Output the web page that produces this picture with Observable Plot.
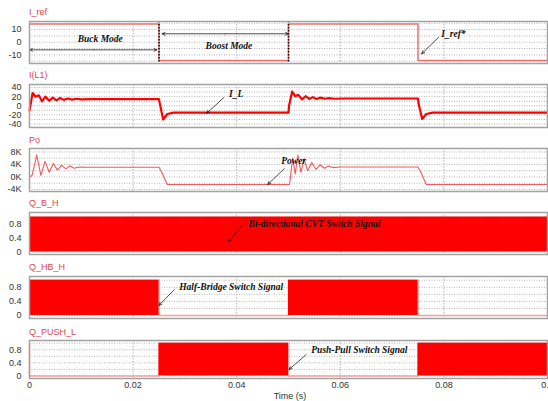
<!DOCTYPE html>
<html><head><meta charset="utf-8">
<script src="https://cdn.jsdelivr.net/npm/d3@7"></script>
<script src="https://cdn.jsdelivr.net/npm/@observablehq/plot@0.6"></script>
<style>
html,body{margin:0;padding:0;background:#fff;overflow:hidden}
#root{position:relative;width:548px;height:401px;overflow:hidden;background:#fff}
.ttl{position:absolute;left:29px;font:9px Arial,"Liberation Sans",sans-serif;line-height:10px;color:#e0474c;white-space:nowrap}
.p{position:absolute;left:0}
.xl{position:absolute;font:9px Arial,"Liberation Sans",sans-serif;line-height:10px;color:#333;white-space:nowrap;transform:translateX(-50%)}
</style></head><body><div id="root"></div>
<script>
// ---- data ----
const titles = ["I_ref", "I(L1)", "Po", "Q_B_H", "Q_HB_H", "Q_PUSH_L"];
const timeTicks = [0, 0.02, 0.04, 0.06, 0.08, 0.1];

const tIref = [0, 0.025, 0.025, 0.05, 0.05, 0.075, 0.075, 0.1];
const Iref  = [14.4, 14.4, -14.4, -14.4, 14.4, 14.4, -14.4, -14.4];

const tIL = [0, 0.0006, 0.0012, 0.0018, 0.0024, 0.0031, 0.0038, 0.0045, 0.0052, 0.0059, 0.0066, 0.0074, 0.0082, 0.009, 0.0100, 0.012,
             0.025, 0.0251, 0.0258, 0.0266, 0.0278, 0.05,
             0.0501, 0.0507, 0.0513, 0.0519, 0.0526, 0.0533, 0.054, 0.0547, 0.0554, 0.0562, 0.057, 0.0578, 0.0588, 0.061,
             0.075, 0.0751, 0.0758, 0.0766, 0.0778, 0.1];
const IL  = [-10, 28, 20, 23, 10, 20, 11, 18, 12, 17, 13, 16, 13.5, 15.5, 14, 14.5,
             14.5, 8, -30, -18, -15, -15,
             0, 31, 21, 24, 14, 21, 15, 19, 15, 18, 15.5, 17, 15.5, 16,
             16, 5, -29, -18, -15, -15];

const tPo = [0, 0.0005, 0.0014, 0.0022, 0.003, 0.0038, 0.0046, 0.0054, 0.0062, 0.007, 0.0078, 0.0086, 0.0095, 0.011,
             0.025, 0.0255, 0.0266, 0.05,
             0.0502, 0.0508, 0.0513, 0.0518, 0.0524, 0.053, 0.0537, 0.0545, 0.0553, 0.0561, 0.0569, 0.0577, 0.0585, 0.06,
             0.075, 0.0755, 0.0766, 0.1];
const Po  = [0, 500, 7000, 500, 5000, 1500, 4300, 2200, 3800, 2600, 3500, 2800, 3200, 3100,
             3100, 1600, -2400, -2400,
             -2400, 6000, 1000, 7000, 1500, 5800, 2000, 4600, 2400, 3900, 2800, 3500, 3000, 3200,
             3200, 1700, -2400, -2400];

const tQbh = [0, 0.1];
const Qbh  = [1, 1];
const tQhb = [0, 0.025, 0.025, 0.05, 0.05, 0.075, 0.075, 0.1];
const Qhb  = [1, 1, 0, 0, 1, 1, 0, 0];
const tQpush = [0, 0, 0.025, 0.025, 0.05, 0.05, 0.075, 0.075, 0.1];
const Qpush  = [1, 0, 0, 1, 1, 0, 0, 1, 1];

// ---- layout ----
const W = 560, ML = 29, MR = 13;
const root = document.getElementById("root");
const fontFam = "Arial, 'Liberation Sans', sans-serif";
const annFont = {fontFamily: "'Liberation Serif', 'DejaVu Serif', serif", fontWeight: "bold", fontStyle: "italic", fontSize: 9.5, fill: "#111", textAnchor: "start"};
const arrowOpt = {x1: "x1", y1: "y1", x2: "x2", y2: "y2", stroke: "#222", strokeWidth: 0.8, headLength: 6, headAngle: 50};
const lineX = (ts) => (d, i) => ts[i];

function panel(cfg) {
  const mt = 4, mb = cfg.xAxis ? 22 : 4;
  const marks = [
    Plot.gridX([0.02, 0.04, 0.06, 0.08], {stroke: "#b5b5b5", strokeOpacity: 1, strokeDasharray: "1.5,1.5"}),
    Plot.gridY(cfg.grid, {stroke: "#b5b5b5", strokeOpacity: 1, strokeDasharray: "1,1.5"}),
    ...cfg.marks,
    Plot.frame({stroke: "#a2a2a2", strokeWidth: 1.5}),
    Plot.axisY(cfg.ticks, {tickSize: 0, tickPadding: 8, tickFormat: cfg.fmt || (d => String(d)), label: null, fill: "#333"})
  ];
  if (cfg.xAxis) marks.push(Plot.axisX(timeTicks, {tickSize: 0, tickPadding: 3, tickFormat: d => String(d), label: null, fill: "#333"}));
  const chart = Plot.plot({
    width: W, height: (cfg.bottom - cfg.top) + mt + mb,
    marginTop: mt, marginBottom: mb, marginLeft: ML, marginRight: MR,
    style: {background: "transparent", maxWidth: "none", overflow: "visible", fontFamily: fontFam, fontSize: "9px", color: "#333"},
    x: {domain: [0, 0.1], axis: cfg.xAxis ? undefined : null},
    y: {domain: cfg.domain},
    marks
  });
  const wrap = document.createElement("div");
  wrap.className = "p";
  wrap.style.top = (cfg.top - mt) + "px";
  wrap.appendChild(chart);
  root.appendChild(wrap);
  const t = document.createElement("div");
  t.className = "ttl";
  t.style.top = (cfg.titleY - 5) + "px";
  t.textContent = cfg.title;
  root.appendChild(t);
}

// Panel 1: I_ref
panel({
  title: titles[0], titleY: 12, top: 21, bottom: 63, domain: [-16.8, 16.4],
  ticks: [10, 0, -10], grid: [-15, -10, -5, 0, 5, 10, 15],
  marks: [
    Plot.line(Iref, {x: lineX(tIref), y: d => d, stroke: "#f07070", strokeWidth: 1.5}),
    Plot.ruleX([0.025, 0.05], {stroke: "#111", strokeWidth: 1.5, strokeDasharray: "1.5,1.5"}),
    Plot.arrow([{x1: 0.0124, y1: -6, x2: 0.0, y2: -6}, {x1: 0.0124, y1: -6, x2: 0.0246, y2: -6},
                {x1: 0.0378, y1: 6.7, x2: 0.0256, y2: 6.7}, {x1: 0.0378, y1: 6.7, x2: 0.05, y2: 6.7},
                {x1: 0.079, y1: 4.0, x2: 0.0757, y2: -9.1}], arrowOpt),
    Plot.text([{x: 0.0093, y: 2.7, s: "Buck Mode"}, {x: 0.034, y: -2.6, s: "Boost Mode"}, {x: 0.0795, y: 6.7, s: "I_ref*"}],
      {x: "x", y: "y", text: "s", ...annFont})
  ]
});

// Panel 2: I(L1)
panel({
  title: titles[1], titleY: 75, top: 84, bottom: 127, domain: [-47.6, 46.7],
  ticks: [40, 20, 0, -20, -40], grid: [-40, -30, -20, -10, 0, 10, 20, 30, 40],
  marks: [
    Plot.line(IL, {x: lineX(tIL), y: d => d, stroke: "#ff0000", strokeWidth: 2.2}),
    Plot.arrow([{x1: 0.0375, y1: 17.8, x2: 0.0342, y2: -16.5}], arrowOpt),
    Plot.text([{x: 0.0385, y: 26.7, s: "I_L"}], {x: "x", y: "y", text: "s", ...annFont})
  ]
});

// Panel 3: Po
panel({
  title: titles[2], titleY: 140, top: 148, bottom: 191, domain: [-4640, 9100],
  ticks: [8000, 4000, 0, -4000], grid: [-4000, -2000, 0, 2000, 4000, 6000, 8000],
  fmt: d => (d / 1000) + "K",
  marks: [
    Plot.line(Po, {x: lineX(tPo), y: d => d, stroke: "#f05a5a", strokeWidth: 1.1}),
    Plot.arrow([{x1: 0.0492, y1: 2665, x2: 0.046, y2: -2390}], arrowOpt),
    Plot.text([{x: 0.0486, y: 5110, s: "Power"}], {x: "x", y: "y", text: "s", ...annFont})
  ]
});

// Panel 4: Q_B_H
panel({
  title: titles[3], titleY: 203, top: 212, bottom: 254, domain: [-0.073, 1.127],
  ticks: [0.8, 0.4, 0], grid: [0, 0.2, 0.4, 0.6, 0.8, 1.0],
  marks: [
    Plot.areaY(Qbh, {x: lineX(tQbh), y: d => d, fill: "#ff0000"}),
    Plot.arrow([{x1: 0.041, y1: 0.752, x2: 0.0384, y2: 0.282}], arrowOpt),
    Plot.text([{x: 0.0423, y: 0.8, s: "Bi-directional CVT Switch Signal"}], {x: "x", y: "y", text: "s", ...annFont})
  ]
});

// Panel 5: Q_HB_H
panel({
  title: titles[4], titleY: 267, top: 276, bottom: 318, domain: [-0.084, 1.104],
  ticks: [0.8, 0.4, 0], grid: [0, 0.2, 0.4, 0.6, 0.8, 1.0],
  marks: [
    Plot.line(Qhb, {x: lineX(tQhb), y: d => d, stroke: "#f4a0a0", strokeWidth: 1.5}),
    Plot.areaY(Qhb, {x: lineX(tQhb), y: d => d, fill: "#ff0000"}),
    Plot.arrow([{x1: 0.0279, y1: 0.725, x2: 0.025, y2: 0.287}], arrowOpt),
    Plot.text([{x: 0.0289, y: 0.817, s: "Half-Bridge Switch Signal"}], {x: "x", y: "y", text: "s", ...annFont})
  ]
});

// Panel 6: Q_PUSH_L
panel({
  title: titles[5], titleY: 332, top: 340, bottom: 378, domain: [-0.079, 1.082], xAxis: true,
  ticks: [0.8, 0.4, 0], grid: [0, 0.2, 0.4, 0.6, 0.8, 1.0],
  marks: [
    Plot.line(Qpush, {x: lineX(tQpush), y: d => d, stroke: "#f4a0a0", strokeWidth: 1.5}),
    Plot.areaY(Qpush, {x: lineX(tQpush), y: d => d, fill: "#ff0000"}),
    Plot.arrow([{x1: 0.0534, y1: 0.649, x2: 0.0501, y2: 0.194}], arrowOpt),
    Plot.text([{x: 0.0544, y: 0.779, s: "Push-Pull Switch Signal"}], {x: "x", y: "y", text: "s", ...annFont})
  ]
});

const xl = document.createElement("div");
xl.className = "xl";
xl.style.left = "290px";
xl.style.top = "391px";
xl.textContent = "Time (s)";
root.appendChild(xl);
</script></body></html>
